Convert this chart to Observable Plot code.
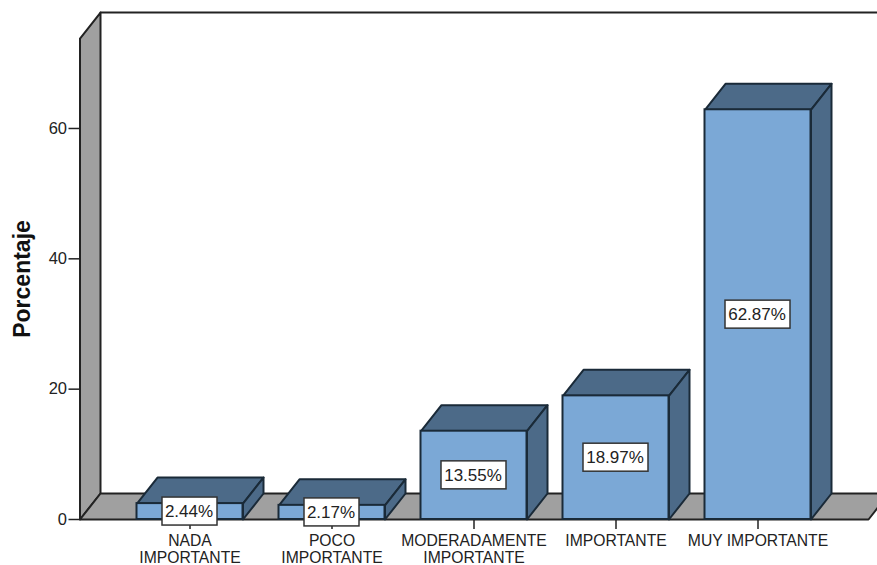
<!DOCTYPE html>
<html>
<head>
<meta charset="utf-8">
<style>html,body{margin:0;padding:0;background:#fff}</style>
<script src="https://cdn.jsdelivr.net/npm/d3@7"></script>
<script src="https://cdn.jsdelivr.net/npm/@observablehq/plot@0.6"></script>
</head>
<body>
<script>
const categories = ["NADA\nIMPORTANTE", "POCO\nIMPORTANTE", "MODERADAMENTE\nIMPORTANTE", "IMPORTANTE", "MUY IMPORTANTE"];
const values = [2.44, 2.17, 13.55, 18.97, 62.87];
const valueLabels = ["2.44%", "2.17%", "13.55%", "18.97%", "62.87%"];
const yTicks = [0, 20, 40, 60];

const unitX = 142, unitY = 6.517;        // pixels per category / per percent
const barHalf = 53 / unitX;
const depthX = 20.5 / unitX, depthY = 26 / unitY;
const xMin = (79.5 - 189.5) / unitX, xMax = (877 - 189.5) / unitX;
const floorEnd = (868 - 189.5) / unitX;
const wallTop = 73.8;
const rows = values.map((v, i) => ({i, v, cat: categories[i], label: valueLabels[i]}));

const poly = (id, pts) => pts.concat([pts[0]]).map(([x, y]) => ({id, x, y}));
const wall = poly("wall", [[xMin, 0], [xMin, wallTop], [xMin + depthX, wallTop + depthY], [xMin + depthX, depthY]]);
const floor = poly("floor", [[xMin, 0], [floorEnd, 0], [floorEnd + depthX, depthY], [xMin + depthX, depthY]]);
const backTop = [{x: xMin + depthX, y: wallTop + depthY}, {x: xMax, y: wallTop + depthY}];
const tops = rows.flatMap(d => poly(d.i, [
  [d.i - barHalf, d.v], [d.i + barHalf, d.v], [d.i + barHalf + depthX, d.v + depthY], [d.i - barHalf + depthX, d.v + depthY]]));
const sides = rows.flatMap(d => poly(d.i, [
  [d.i + barHalf, 0], [d.i + barHalf, d.v], [d.i + barHalf + depthX, d.v + depthY], [d.i + barHalf + depthX, depthY]]));

const ink = "#222";
const boxHalfX = d => (d.label.length === 5 ? 27.5 : 32.5) / unitX;
const boxHalfY = 14 / unitY;

const chart = Plot.plot({
  width: 877, height: 565,
  marginLeft: 79.5, marginRight: 0, marginTop: 0, marginBottom: 46,
  style: {fontFamily: "'Liberation Sans', Arial, sans-serif", fontSize: "15px", background: "#fff", color: "#222"},
  x: {type: "linear", domain: [xMin, xMax], axis: null},
  y: {domain: [0, 519 / unitY], axis: null},
  marks: [
    Plot.axisY({ticks: yTicks, tickSize: 11, tickPadding: 2, fontSize: 16.5, label: null, stroke: ink, strokeWidth: 1.5}),
    Plot.axisX({ticks: values.map((_, i) => i), tickFormat: i => categories[i], tickSize: 10, tickPadding: 4, fontSize: 15.7, lineHeight: 1.1, label: null, stroke: ink, strokeWidth: 1.5, textAnchor: "middle"}),
    Plot.text(["Porcentaje"], {x: (22.5 - 189.5) / unitX, y: (519 - 278.5) / unitY, rotate: -90, fontWeight: "bold", fontSize: 23, fill: "#111"}),
    Plot.line(wall, {x: "x", y: "y", z: "id", fill: "#a0a0a0", stroke: ink, strokeWidth: 2, curve: "linear"}),
    Plot.line(floor, {x: "x", y: "y", z: "id", fill: "#a0a0a0", stroke: ink, strokeWidth: 2, curve: "linear"}),
    Plot.line(backTop, {x: "x", y: "y", stroke: ink, strokeWidth: 2}),
    Plot.line(tops, {x: "x", y: "y", z: "id", fill: "#4c6a88", stroke: "#1a2a38", strokeWidth: 2}),
    Plot.line(sides, {x: "x", y: "y", z: "id", fill: "#4c6a88", stroke: "#1a2a38", strokeWidth: 2}),
    Plot.rect(rows, {x1: d => d.i - barHalf, x2: d => d.i + barHalf, y1: 0, y2: "v", fill: "#7ba8d6", stroke: "#1a2a38", strokeWidth: 2}),
    Plot.rect(rows, {x1: d => d.i - boxHalfX(d), x2: d => d.i + boxHalfX(d), y1: d => d.v / 2 - boxHalfY, y2: d => d.v / 2 + boxHalfY, fill: "#fff", stroke: "#333", strokeWidth: 1.5}),
    Plot.text(rows, {x: "i", y: d => d.v / 2, dx: -1, text: "label", fontSize: 17, fill: "#222"})
  ]
});
document.body.appendChild(chart);
</script>
</body>
</html>
